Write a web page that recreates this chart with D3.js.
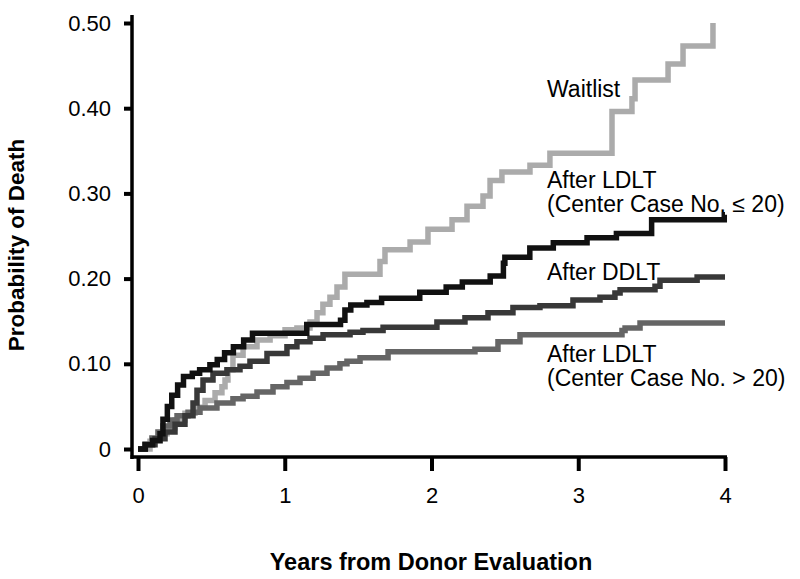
<!DOCTYPE html>
<html>
<head>
<meta charset="utf-8">
<script src="https://cdn.jsdelivr.net/npm/d3@7"></script>
<style>
  html, body { margin: 0; padding: 0; background: #fff; }
  svg { display: block; }
  text { font-family: Arial, "Liberation Sans", Helvetica, sans-serif; fill: #000; }
</style>
</head>
<body>
<svg id="chart" width="800" height="579"></svg>
<script>
// ---- Data (years, cumulative probability of death) ----
const xTicks = [0, 1, 2, 3, 4];
const yTicks = [0, 0.1, 0.2, 0.3, 0.4, 0.5];
const xTitle = "Years from Donor Evaluation";
const yTitle = "Probability of Death";

const waitlist = [
  [0,0],[0.082,0.009],[0.15,0.018],[0.198,0.025],[0.252,0.034],[0.32,0.042],[0.388,0.049],
  [0.457,0.057],[0.525,0.066],[0.572,0.073],[0.593,0.081],[0.613,0.093],[0.647,0.110],
  [0.716,0.120],[0.811,0.128],[0.90,0.133],[1.002,0.140],[1.083,0.142],[1.172,0.149],
  [1.22,0.160],[1.26,0.170],[1.308,0.178],[1.356,0.190],[1.41,0.205],[1.649,0.220],
  [1.683,0.234],[1.854,0.243],[1.976,0.258],[2.14,0.269],[2.242,0.285],[2.351,0.297],
  [2.399,0.315],[2.48,0.325],[2.671,0.333],[2.807,0.347],[3.23,0.396],[3.366,0.411],
  [3.387,0.433],[3.612,0.452],[3.714,0.473],[3.918,0.50]
];
const ldltLow = [ // After LDLT (Center Case No. <= 20)
  [0,0],[0.05,0.005],[0.10,0.010],[0.15,0.018],[0.17,0.035],[0.20,0.050],[0.23,0.063],
  [0.27,0.075],[0.31,0.085],[0.37,0.089],[0.42,0.093],[0.49,0.099],[0.54,0.105],
  [0.59,0.113],[0.65,0.120],[0.72,0.128],[0.78,0.136],[1.15,0.146],[1.38,0.151],
  [1.41,0.163],[1.45,0.169],[1.56,0.172],[1.66,0.177],[1.92,0.184],[2.10,0.190],
  [2.21,0.196],[2.40,0.203],[2.49,0.218],[2.50,0.225],[2.67,0.236],[2.83,0.242],
  [3.06,0.248],[3.26,0.253],[3.50,0.269],[3.995,0.275],[4.0,0.275]
];
const ddlt = [ // After DDLT
  [0,0],[0.048,0.005],[0.116,0.012],[0.184,0.020],[0.252,0.029],[0.32,0.039],[0.375,0.054],
  [0.402,0.069],[0.443,0.081],[0.511,0.089],[0.606,0.093],[0.695,0.097],[0.763,0.103],
  [0.879,0.112],[1.015,0.120],[1.083,0.126],[1.172,0.130],[1.261,0.134],[1.445,0.137],
  [1.533,0.139],[1.67,0.143],[2.037,0.149],[2.228,0.154],[2.385,0.160],[2.555,0.166],
  [2.739,0.168],[2.964,0.175],[3.148,0.178],[3.25,0.183],[3.285,0.187],[3.523,0.191],
  [3.557,0.198],[3.81,0.202],[4.0,0.202]
];
const ldltHigh = [ // After LDLT (Center Case No. > 20)
  [0,0],[0.048,0.006],[0.095,0.013],[0.136,0.020],[0.17,0.027],[0.218,0.034],[0.266,0.039],
  [0.341,0.043],[0.4225,0.048],[0.538,0.054],[0.647,0.059],[0.716,0.062],[0.811,0.067],
  [0.92,0.073],[1.015,0.078],[1.104,0.083],[1.193,0.089],[1.288,0.095],[1.376,0.100],
  [1.424,0.103],[1.513,0.107],[1.704,0.114],[2.296,0.117],[2.453,0.126],[2.603,0.134],
  [3.298,0.139],[3.319,0.142],[3.421,0.148],[4.0,0.148]
];

const seriesData = [waitlist, ldltHigh, ddlt, ldltLow];
const seriesColors = ["#ababab", "#656565", "#383838", "#111111"];

const labelLines = [
  ["Waitlist"],
  ["After LDLT", "(Center Case No. ≤ 20)"],
  ["After DDLT"],
  ["After LDLT", "(Center Case No. > 20)"]
];
const labelY = [97, 188, 280, 362];

// ---- Drawing ----
const svg = d3.select("#chart");
const x = d3.scaleLinear().domain([0, 4]).range([138, 725]);
const y = d3.scaleLinear().domain([0, 0.5]).range([449, 23]);

// y axis
const yAxis = d3.axisLeft(y).tickValues(yTicks).tickSize(8).tickPadding(13)
  .tickFormat(d => d === 0 ? "0" : d3.format(".2f")(d));
const gy = svg.append("g").attr("transform", "translate(132,0)").call(yAxis);
gy.select(".domain").remove();
gy.selectAll(".tick line").attr("stroke", "#000").attr("stroke-width", 4);
gy.selectAll(".tick text").style("font-size", "22px").style("font-family", "Arial, 'Liberation Sans', sans-serif").attr("fill", "#000");
svg.append("line").attr("x1", 132).attr("x2", 132).attr("y1", 15).attr("y2", 459)
  .attr("stroke", "#000").attr("stroke-width", 3.5);

// x axis
const xAxis = d3.axisBottom(x).tickValues(xTicks).tickSize(14).tickPadding(16).tickFormat(d3.format("d"));
const gx = svg.append("g").attr("transform", "translate(0,457)").call(xAxis);
gx.select(".domain").remove();
gx.selectAll(".tick line").attr("stroke", "#000").attr("stroke-width", 4);
gx.selectAll(".tick text").style("font-size", "22px").style("font-family", "Arial, 'Liberation Sans', sans-serif").attr("fill", "#000");
svg.append("line").attr("x1", 130.5).attr("x2", 727).attr("y1", 457).attr("y2", 457)
  .attr("stroke", "#000").attr("stroke-width", 3.5);

// curves
const line = d3.line().x(d => x(d[0])).y(d => y(d[1])).curve(d3.curveStepAfter);
svg.append("g").selectAll("path").data(seriesData).join("path")
  .attr("d", d => line(d))
  .attr("fill", "none")
  .attr("stroke", (d, i) => seriesColors[i])
  .attr("stroke-width", 5.5)
  .attr("stroke-linejoin", "miter")
  .attr("stroke-linecap", "butt");

// labels (each line its own text element)
labelLines.forEach((lines, i) => {
  lines.forEach((s, j) => {
    svg.append("text").attr("x", 547).attr("y", labelY[i] + j * 24)
      .style("font-size", "23px").text(s);
  });
});

// axis titles
svg.append("text").attr("x", 431).attr("y", 570).attr("text-anchor", "middle")
  .style("font-size", "23.5px").style("font-weight", "bold").text(xTitle);
svg.append("text").attr("transform", "translate(24,245) rotate(-90)").attr("text-anchor", "middle")
  .style("font-size", "22.5px").style("font-weight", "bold").text(yTitle);
</script>
</body>
</html>
